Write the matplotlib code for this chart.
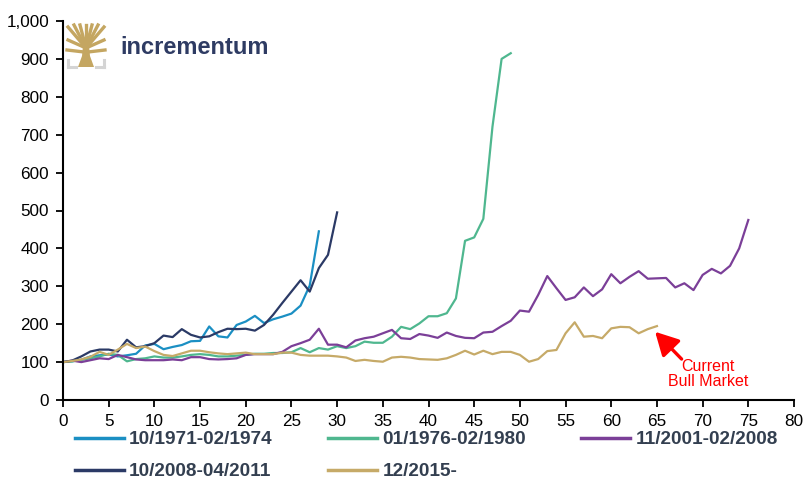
import matplotlib
matplotlib.use("Agg")
import matplotlib.pyplot as plt
from matplotlib.lines import Line2D
from matplotlib.patches import Polygon
from matplotlib.ticker import FuncFormatter

plt.rcParams['font.family'] = ['Liberation Sans', 'DejaVu Sans']

labels = ["10/1971-02/1974", "01/1976-02/1980", "11/2001-02/2008",
          "10/2008-04/2011", "12/2015-"]
colors = ["#1b8fc3", "#4fb78f", "#7b3f98", "#2b3a66", "#c6aa68"]

s1971 = [100, 102, 106, 115, 118, 120, 115, 118, 122, 144, 148, 134, 140, 145, 155,
         156, 194, 168, 165, 198, 207, 222, 203, 213, 220, 228, 249, 302, 445]
s1976 = [100, 102, 106, 110, 115, 122, 119, 102, 108, 110, 115, 112, 112, 115, 119,
         121, 119, 115, 115, 117, 119, 122, 122, 124, 124, 126, 137, 126, 137, 133,
         142, 137, 142, 154, 151, 151, 167, 193, 187, 202, 221, 221, 229, 268, 420,
         429, 478, 721, 900, 915]
s2001 = [100, 104, 100, 105, 110, 108, 119, 113, 107, 105, 105, 105, 107, 105, 113,
         113, 108, 107, 108, 110, 119, 121, 121, 121, 127, 142, 150, 159, 188, 146,
         146, 139, 157, 163, 167, 176, 185, 163, 161, 174, 170, 164, 178, 169, 164,
         163, 178, 180, 195, 209, 236, 233, 277, 327, 295, 264, 271, 297, 274, 292,
         332, 308, 325, 340, 320, 321, 322, 297, 308, 290, 330, 346, 334, 354, 400, 475]
s2008 = [100, 104, 115, 128, 133, 133, 128, 159, 139, 142, 150, 170, 166, 187, 172,
         165, 168, 179, 188, 187, 188, 183, 198, 225, 256, 286, 316, 286, 348, 383, 495]
s2015 = [100, 103, 107, 114, 127, 119, 133, 148, 137, 141, 129, 119, 116, 123, 130,
         130, 126, 123, 121, 123, 125, 121, 121, 121, 125, 125, 119, 117, 117, 117,
         115, 112, 103, 106, 103, 101, 112, 114, 112, 108, 107, 106, 110, 119, 130,
         120, 130, 121, 127, 127, 119, 101, 108, 129, 132, 176, 205, 167, 169, 163,
         189, 193, 192, 176, 187, 195]
series = [s1971, s1976, s2001, s2008, s2015]

xticks = list(range(0, 81, 5))
yticks = list(range(0, 1001, 100))

W, H = 805, 483
fig = plt.figure(figsize=(W / 100, H / 100), dpi=100)
ax = fig.add_axes([63 / W, 1 - 400 / H, (794 - 63) / W, (400 - 21) / H])

handles = []
for vals, c, lab in zip(series, colors, labels):
    h, = ax.plot(range(len(vals)), vals, color=c, lw=1.6, label=lab)
    handles.append(h)

ax.set_xlim(0, 80)
ax.set_ylim(0, 1000)
ax.set_xticks(xticks)
ax.set_yticks(yticks)
ax.yaxis.set_major_formatter(FuncFormatter(lambda v, p: f"{int(v):,}"))
for s in ["top", "right"]:
    ax.spines[s].set_visible(False)
for s in ["left", "bottom"]:
    ax.spines[s].set_linewidth(1.5)
    ax.spines[s].set_color("black")
ax.tick_params(axis='both', direction='out', length=5, width=1.3, labelsize=12.3,
               colors='black', pad=5)

# annotation
ax.annotate('', xy=(64.8, 180), xytext=(67.7, 108),
            arrowprops=dict(arrowstyle='-|>,head_length=1.4,head_width=0.75',
                            color='#ff0000', lw=2.4, shrinkA=0, shrinkB=0))
ax.text(70.6, 69, "Current\nBull Market", color='#ff0000', fontsize=11.5,
        ha='center', va='center', linespacing=1.05)

# legend (row-wise order in a 3-column layout)
order = [0, 3, 1, 4, 2]
leg = fig.legend(handles=[handles[i] for i in order], ncol=3, loc='upper left',
                 bbox_to_anchor=(75 / W, 1 - 431 / H), frameon=False,
                 prop=dict(size=13.7, weight='bold'), handlelength=2.55,
                 handletextpad=0.3, columnspacing=2.9, labelspacing=0.78,
                 borderaxespad=0, borderpad=0)
for t in leg.get_texts():
    t.set_color('#333f50')
for l in leg.get_lines():
    l.set_linewidth(2.5)

# logo
def P(x, y):
    return (x / W, 1 - y / H)

gold = '#c4a661'
trunk = Polygon([P(78, 67), P(94, 67), P(90, 56), P(89, 46), P(83, 46), P(82, 56)],
                closed=True, transform=fig.transFigure, color=gold, lw=0)
fig.patches.append(trunk)
branches = [((86, 48), (68, 27)), ((86, 48), (68, 40)), ((86, 48), (74, 25)),
            ((86, 48), (80, 25)), ((86, 48), (86, 25)), ((86, 48), (92, 25)),
            ((86, 48), (98, 25)), ((86, 48), (104, 27)), ((86, 48), (104, 40)),
            ((84, 52), (67, 50)), ((88, 52), (105, 50))]
for a, b in branches:
    fig.lines.append(Line2D([a[0] / W, b[0] / W], [1 - a[1] / H, 1 - b[1] / H],
                            transform=fig.transFigure, color=gold, lw=2.4))
grey = '#d4d4d4'
for a, b in [((68, 60), (68, 67)), ((68, 67), (76, 67)), ((104, 60), (104, 67)),
             ((96, 67), (104, 67))]:
    fig.lines.append(Line2D([a[0] / W, b[0] / W], [1 - a[1] / H, 1 - b[1] / H],
                            transform=fig.transFigure, color=grey, lw=2.2))
fig.text(120 / W, 1 - 47 / H, "incrementum", color='#2e3b63', fontsize=17,
         fontweight='bold', ha='left', va='center')

fig.savefig("out.png", dpi=100)
